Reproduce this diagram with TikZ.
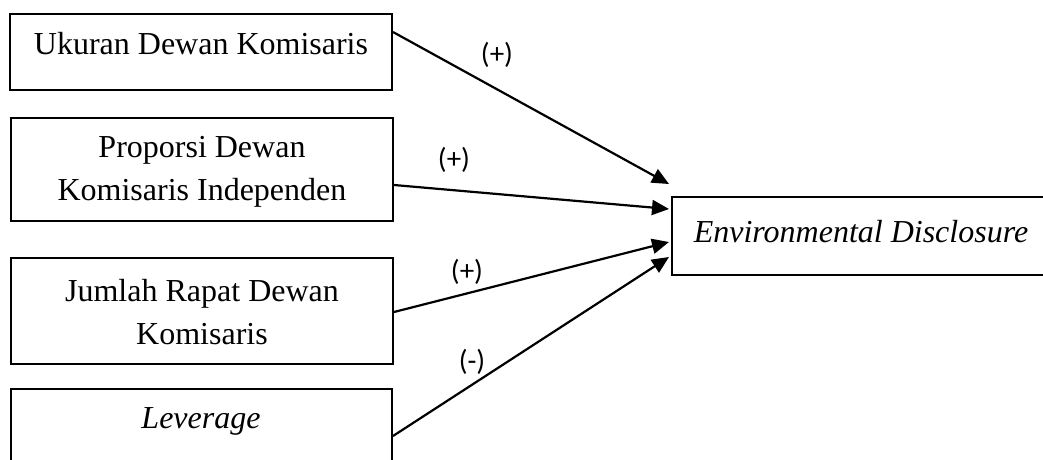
\documentclass[tikz,border=0pt]{standalone}
\usepackage{fontspec}
\setmainfont{Liberation Serif}
\newfontfamily\lblfont{Carlito}
\usetikzlibrary{arrows.meta,calc}
\begin{document}
\begin{tikzpicture}[x=1pt,y=-1pt,
  box/.style={draw, line width=2pt, rectangle, inner sep=0pt},
  txt/.style={font=\fontsize{32}{43}\selectfont, align=center, inner sep=0pt},
  lbl/.style={font=\lblfont\fontsize{29}{32}\selectfont, inner sep=0pt},
  link/.style={line width=2.2pt, -{Triangle[length=17pt,width=15pt]}}]
\clip (0,0) rectangle (1043,459);
% boxes
\node[box, minimum width=382pt, minimum height=76pt] (b1) at (201,52) {};
\node[box, minimum width=382pt, minimum height=103pt] (b2) at (202,169.5) {};
\node[box, minimum width=382pt, minimum height=106pt] (b3) at (202,311) {};
\node[box, minimum width=381pt, minimum height=92pt] (b4) at (201.5,435) {};
\node[box, minimum width=378pt, minimum height=78pt] (e) at (861,236) {};
% texts
\node[txt, anchor=base] (t1) at (201,54) {Ukuran Dewan Komisaris};
\node[txt] (t2) at (202,172) {Proporsi Dewan\\Komisaris Independen};
\node[txt] (t3) at (202,312) {Jumlah Rapat Dewan\\Komisaris};
\node[txt, anchor=base] (t4) at (201,428) {\itshape Leverage};
\node[txt, anchor=base] (t5) at (861,242) {\itshape Environmental Disclosure};
% connectors
\draw[link] ($(b1.north east)+(0,19)$) -- ($(e.north west)+(-2,-12)$);
\draw[link] ($(b2.north east)+(0,68)$) -- ($(e.north west)+(-2,13)$);
\draw[link] ($(b3.north east)+(0,55)$) -- ($(e.north west)+(-2,46)$);
\draw[link] ($(b4.north east)+(0,48)$) -- ($(e.north west)+(-2,61)$);
% labels
\node[lbl] (l1) at (497,55) {(+)};
\node[lbl] (l2) at (454,160) {(+)};
\node[lbl] (l3) at (467,272) {(+)};
\node[lbl] (l4) at (472,362) {(-)};
\end{tikzpicture}
\end{document}
